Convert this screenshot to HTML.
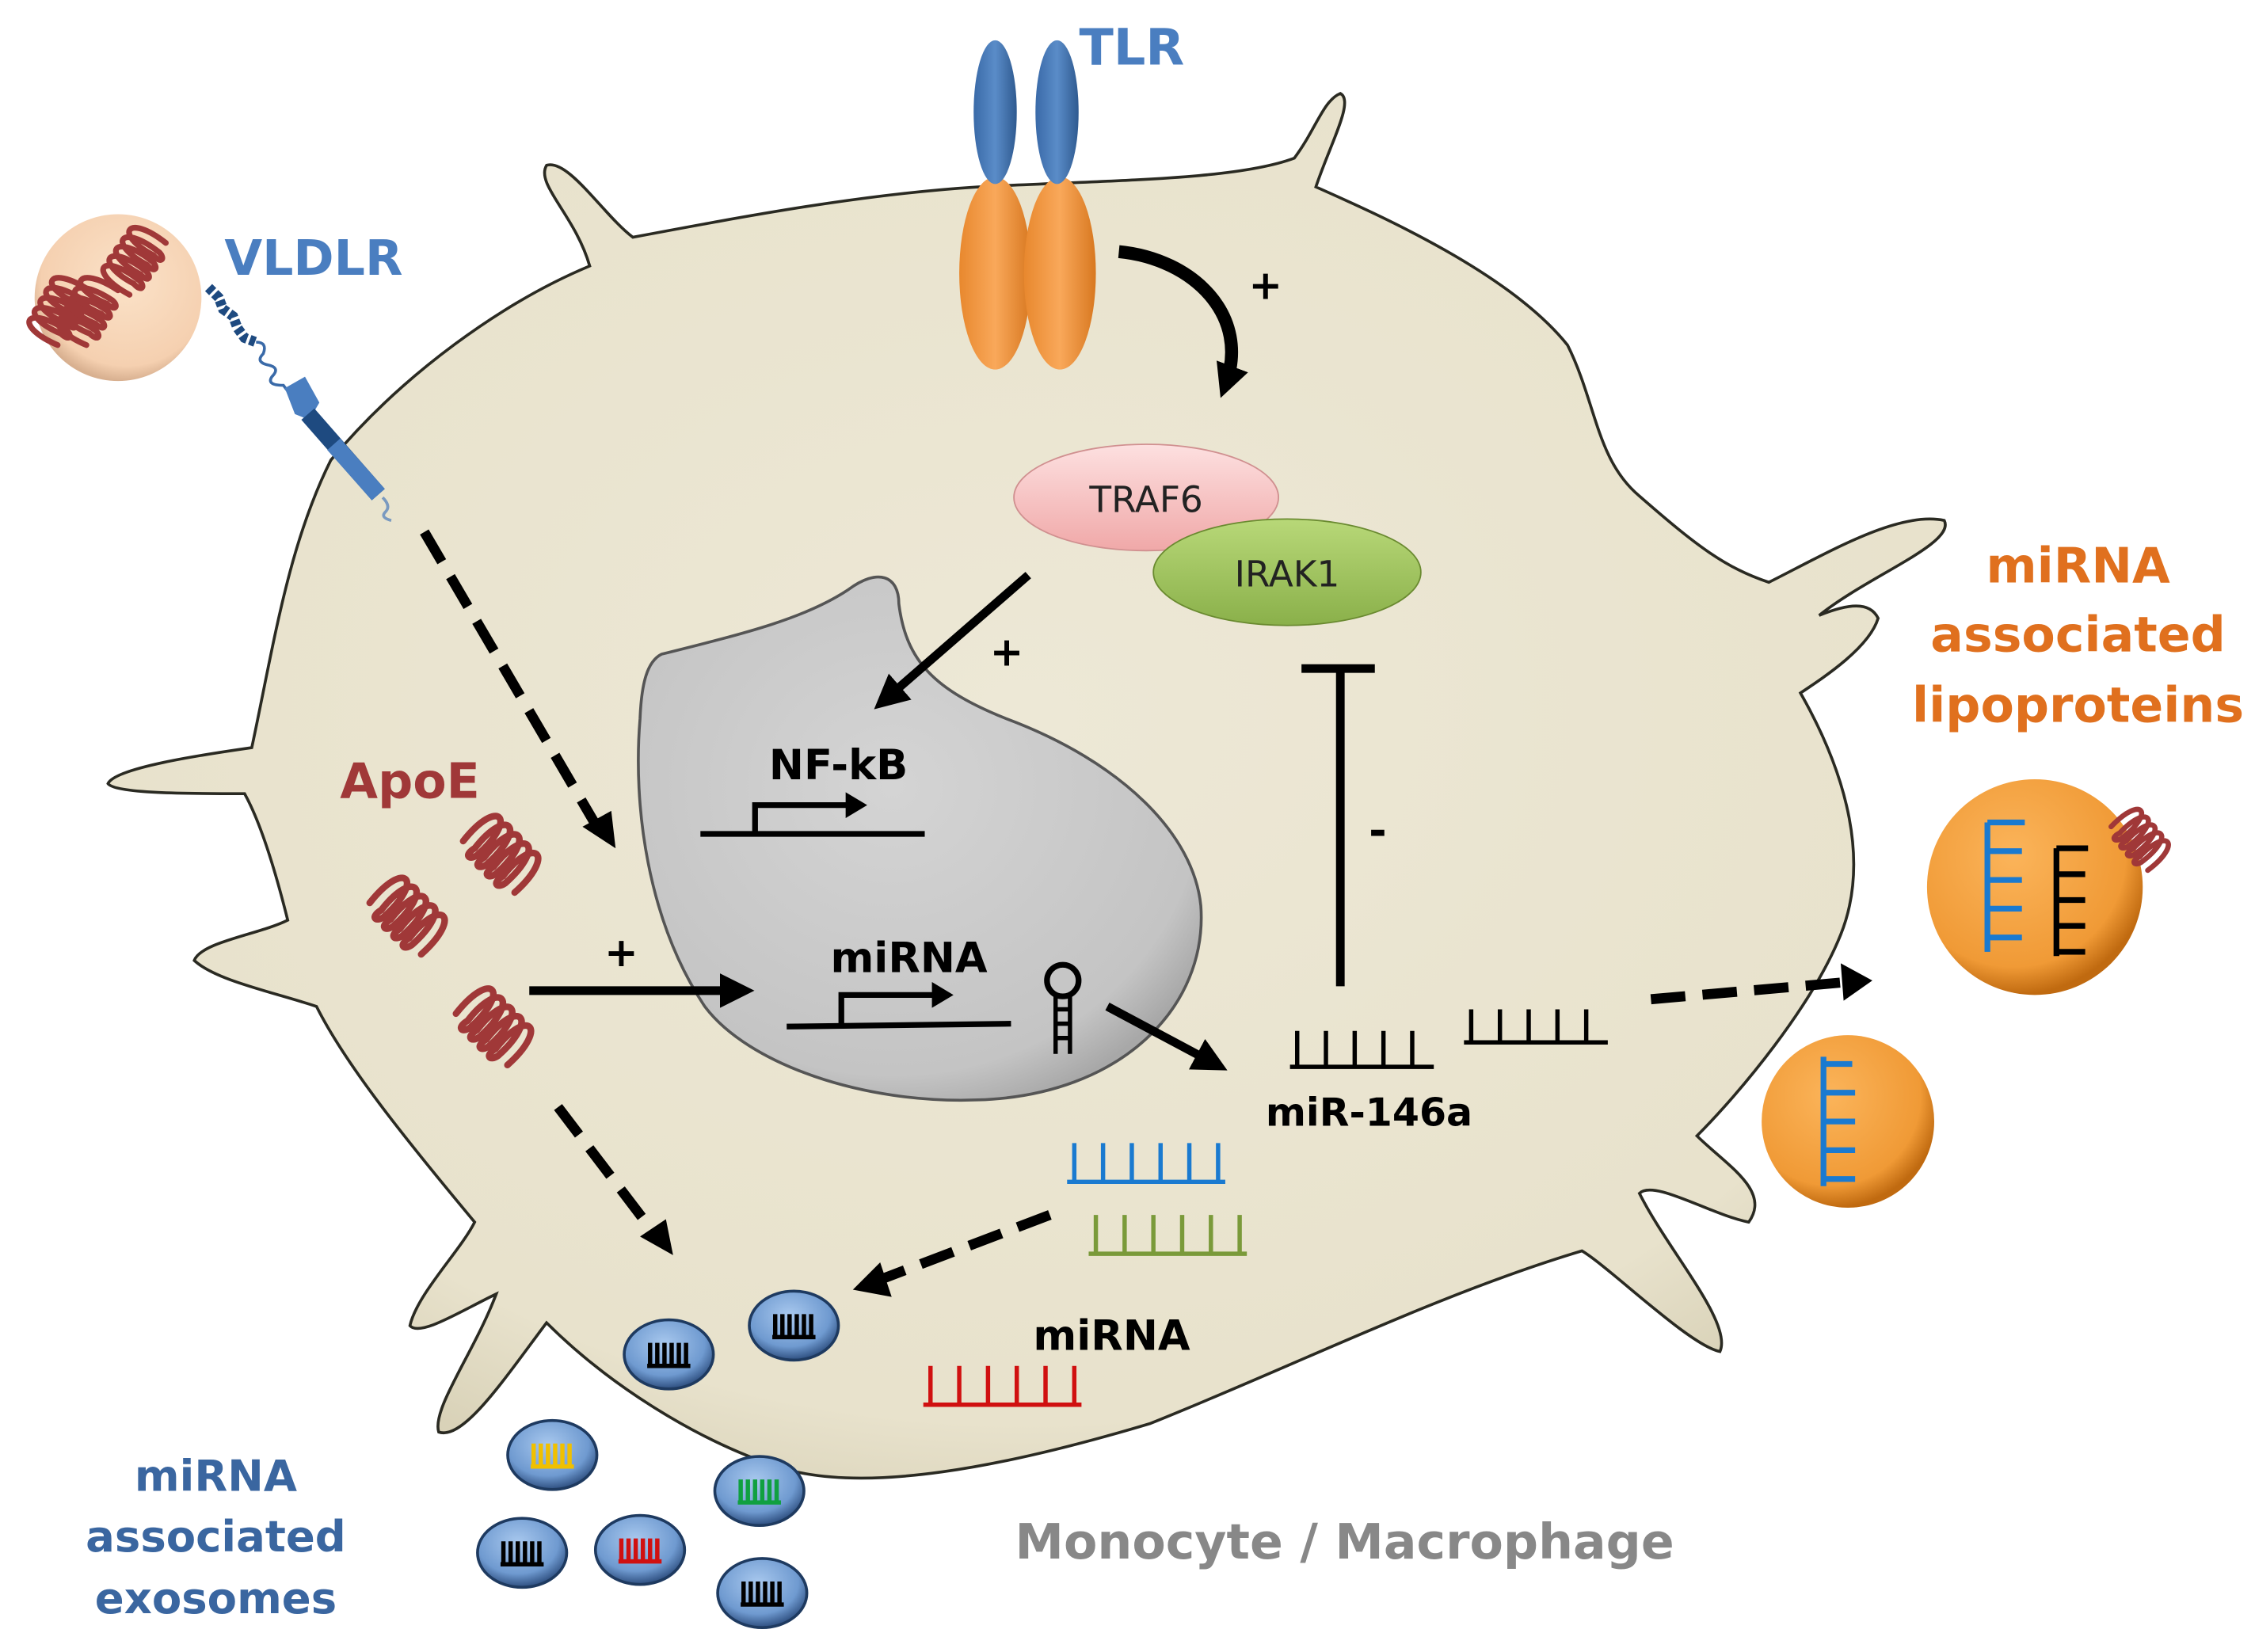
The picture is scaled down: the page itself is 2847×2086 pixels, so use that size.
<!DOCTYPE html>
<html><head><meta charset="utf-8"><style>
html,body{margin:0;padding:0;background:#fff;}
svg{display:block;}
text{font-family:"DejaVu Sans","Liberation Sans",sans-serif;font-weight:bold;}
</style></head><body>
<svg width="2847" height="2086" viewBox="0 0 1568 1149" xmlns="http://www.w3.org/2000/svg">
<defs>
<radialGradient id="cellg" cx="50%" cy="45%" r="60%"><stop offset="0" stop-color="#ede8d6"/><stop offset="0.85" stop-color="#e8e2cc"/><stop offset="1" stop-color="#d9d2b8"/></radialGradient>
<radialGradient id="nucg" cx="45%" cy="40%" r="65%"><stop offset="0" stop-color="#d4d4d4"/><stop offset="0.85" stop-color="#c4c4c4"/><stop offset="1" stop-color="#a8a8a8"/></radialGradient>
<radialGradient id="orng" cx="40%" cy="35%" r="65%"><stop offset="0" stop-color="#fbb45a"/><stop offset="0.8" stop-color="#f09a36"/><stop offset="1" stop-color="#c06a10"/></radialGradient>
<radialGradient id="pinkg" cx="55%" cy="40%" r="60%"><stop offset="0" stop-color="#fbe2c8"/><stop offset="0.85" stop-color="#f5d0b0"/><stop offset="1" stop-color="#d8b090"/></radialGradient>
<radialGradient id="exog" cx="45%" cy="35%" r="65%"><stop offset="0" stop-color="#a8c8ee"/><stop offset="0.7" stop-color="#6f9ad0"/><stop offset="1" stop-color="#2e4f80"/></radialGradient>
<linearGradient id="traf" x1="0" y1="0" x2="0" y2="1"><stop offset="0" stop-color="#fde0e0"/><stop offset="1" stop-color="#f0a8a8"/></linearGradient>
<linearGradient id="irak" x1="0" y1="0" x2="0" y2="1"><stop offset="0" stop-color="#b8d878"/><stop offset="1" stop-color="#8ab04a"/></linearGradient>
<linearGradient id="tlro" x1="0" y1="0" x2="1" y2="0"><stop offset="0" stop-color="#e8882e"/><stop offset="0.5" stop-color="#f9a85a"/><stop offset="1" stop-color="#d87820"/></linearGradient>
<linearGradient id="tlrb" x1="0" y1="0" x2="1" y2="0"><stop offset="0" stop-color="#3a6aa8"/><stop offset="0.5" stop-color="#5a8cc8"/><stop offset="1" stop-color="#2f5a90"/></linearGradient>
<marker id="ah" viewBox="0 0 10 10" refX="6" refY="5" markerWidth="4" markerHeight="4" orient="auto"><path d="M0,0 L10,5 L0,10 z" fill="#000"/></marker>
<marker id="ah2" viewBox="0 0 10 10" refX="6" refY="5" markerWidth="2.6" markerHeight="2.6" orient="auto"><path d="M0,0 L10,5 L0,10 z" fill="#000"/></marker>
<path id="coil" d="M0,0 c-4,-34 14,-34 12,0 c-1,6 -6,6 -4,-2 c-4,-32 14,-32 12,2 c-1,6 -6,6 -4,-2 c-4,-32 14,-32 12,2 c-1,6 -6,6 -4,-2 c-4,-32 14,-32 12,2 c-1,6 -6,6 -4,-2 c-4,-32 14,-32 12,2" fill="none" stroke="#a03838" stroke-width="4" stroke-linecap="round"/>
</defs>

<!-- cell -->
<path d="M410,185 C400,150 372,128 380,115 C395,110 420,150 440,165 C520,150 600,135 680,130 C780,125 860,125 900,110 C915,90 920,70 932,65 C942,70 925,100 915,130 C960,150 1050,190 1090,240 C1110,280 1110,320 1140,345 C1180,380 1200,395 1230,405 C1270,385 1320,355 1352,362 C1360,378 1300,400 1265,428 C1285,420 1300,418 1306,430 C1300,450 1270,470 1252,482 C1285,540 1300,600 1280,650 C1260,700 1210,760 1180,790 C1200,810 1232,828 1216,850 C1190,845 1150,820 1140,830 C1160,870 1205,920 1196,940 C1175,936 1120,882 1100,870 C1000,900 900,950 800,990 C700,1020 600,1040 540,1020 C480,1000 420,960 380,920 C350,960 322,1002 305,996 C300,980 330,940 345,900 C320,912 292,930 285,922 C290,900 320,870 330,850 C280,790 240,740 220,700 C190,690 150,682 135,668 C140,655 180,650 200,640 C190,600 180,570 170,552 C130,552 80,552 75,545 C80,534 140,525 175,520 C190,450 200,380 230,320 C280,260 350,210 410,185 Z" fill="url(#cellg)" stroke="#2a2a22" stroke-width="2"/>

<!-- nucleus -->
<path d="M460,455 C520,440 560,430 590,410 C610,395 625,400 625,420 C630,460 650,480 700,500 C780,530 830,580 835,630 C840,700 780,762 680,765 C600,768 520,740 490,700 C450,640 440,560 445,500 C446,475 450,460 460,455 Z" fill="url(#nucg)" stroke="#555" stroke-width="2"/>

<!-- TLR -->
<ellipse cx="692" cy="190" rx="25" ry="67" fill="url(#tlro)"/>
<ellipse cx="737" cy="190" rx="25" ry="67" fill="url(#tlro)"/>
<ellipse cx="692" cy="78" rx="15" ry="50" fill="url(#tlrb)"/>
<ellipse cx="735" cy="78" rx="15" ry="50" fill="url(#tlrb)"/>
<text x="787" y="45" font-size="35" fill="#4a7ec0" text-anchor="middle">TLR</text>

<!-- curved arrow -->
<path d="M778,175 C830,180 870,220 852,268" fill="none" stroke="#000" stroke-width="9" marker-end="url(#ah2)"/>
<text x="880" y="208" font-size="28" fill="#000" text-anchor="middle">+</text>

<!-- TRAF6 / IRAK1 -->
<ellipse cx="797" cy="346" rx="92" ry="37" fill="url(#traf)" stroke="#d09090"/>
<text x="797" y="356" font-size="25" fill="#222" text-anchor="middle" style="font-weight:normal">TRAF6</text>
<ellipse cx="895" cy="398" rx="93" ry="37" fill="url(#irak)" stroke="#6a8a30"/>
<text x="895" y="408" font-size="25" fill="#222" text-anchor="middle" style="font-weight:normal">IRAK1</text>

<!-- arrow TRAF6->NFkB -->
<line x1="715" y1="400" x2="615" y2="487" stroke="#000" stroke-width="6" marker-end="url(#ah)"/>
<text x="700" y="463" font-size="28" text-anchor="middle">+</text>

<!-- NF-kB -->
<text x="583" y="542" font-size="29" text-anchor="middle">NF-kB</text>
<line x1="487" y1="580" x2="643" y2="580" stroke="#000" stroke-width="4"/>
<path d="M525,580 V560 H590" fill="none" stroke="#000" stroke-width="4"/>
<path d="M588,551 L603,560 L588,569 z"/>

<!-- miRNA gene -->
<text x="632" y="676" font-size="29" text-anchor="middle">miRNA</text>
<line x1="547" y1="714" x2="703" y2="712" stroke="#000" stroke-width="4"/>
<path d="M585,713 V692 H650" fill="none" stroke="#000" stroke-width="4"/>
<path d="M648,683 L663,692 L648,701 z"/>
<circle cx="739" cy="682" r="11" fill="none" stroke="#000" stroke-width="4"/>
<path d="M734,692 V733 M744,692 V733 M734,702 H744 M734,712 H744 M734,722 H744" stroke="#000" stroke-width="3" fill="none"/>

<!-- ApoE arrow -->
<line x1="368" y1="689" x2="515" y2="689" stroke="#000" stroke-width="6" marker-end="url(#ah)"/>
<text x="432" y="672" font-size="28" text-anchor="middle">+</text>

<line x1="770" y1="700" x2="845" y2="740" stroke="#000" stroke-width="6" marker-end="url(#ah)"/>

<!-- inhibition -->
<line x1="932" y1="686" x2="932" y2="465" stroke="#000" stroke-width="6"/>
<line x1="905" y1="465" x2="956" y2="465" stroke="#000" stroke-width="6"/>
<text x="958" y="588" font-size="30" text-anchor="middle">-</text>

<!-- miR-146a ladders -->
<path d="M897,742 H997 M902,742 V717 M922,742 V717 M942,742 V717 M962,742 V717 M982,742 V717" stroke="#000" stroke-width="3" fill="none"/>
<path d="M1018,725 H1118 M1023,725 V702 M1043,725 V702 M1063,725 V702 M1083,725 V702 M1103,725 V702" stroke="#000" stroke-width="3" fill="none"/>
<text x="952" y="783" font-size="27" text-anchor="middle">miR-146a</text>

<line x1="1148" y1="695" x2="1285" y2="683" stroke="#000" stroke-width="7" stroke-dasharray="24,12"/>
<path d="M1280,670 L1302,682 L1282,696 z"/>

<!-- lipoproteins -->
<circle cx="1415" cy="617" r="75" fill="url(#orng)"/>
<path d="M1382,572 V662 M1382,572 H1408 M1382,592 H1406 M1382,612 H1406 M1382,632 H1406 M1382,652 H1406" stroke="#1a7ad0" stroke-width="4" fill="none"/>
<path d="M1430,590 V665 M1430,590 H1452 M1430,608 H1450 M1430,626 H1450 M1430,644 H1450 M1430,662 H1450" stroke="#000" stroke-width="4" fill="none"/>
<use href="#coil" transform="translate(1468,575) rotate(50) scale(0.9)"/>
<circle cx="1285" cy="780" r="60" fill="url(#orng)"/>
<path d="M1268,735 V825 M1268,740 H1288 M1268,760 H1290 M1268,780 H1290 M1268,800 H1290 M1268,820 H1290" stroke="#1a7ad0" stroke-width="4" fill="none"/>
<text font-size="34" fill="#e0701e" text-anchor="middle"><tspan x="1445" y="405">miRNA</tspan><tspan x="1445" y="453">associated</tspan><tspan x="1445" y="502">lipoproteins</tspan></text>

<!-- VLDLR -->
<circle cx="82" cy="207" r="58" fill="url(#pinkg)"/>
<use href="#coil" transform="translate(40,240) rotate(-60) scale(1)"/>
<use href="#coil" transform="translate(90,205) rotate(-55) scale(1)"/>
<use href="#coil" transform="translate(60,240) rotate(-60) scale(1)"/>
<text x="218" y="191" font-size="34" fill="#4a7ec0" text-anchor="middle">VLDLR</text>
<path d="M145,200 L152,207 L155,215 L162,220 L165,228 L170,235 L178,238" stroke="#1e4a80" stroke-width="7" stroke-dasharray="4,2" fill="none"/>
<path d="M178,238 q8,0 5,8 q-6,6 4,8 q8,2 2,8 q-4,6 8,6 L200,272" stroke="#3a6aa8" stroke-width="2" fill="none"/>
<path d="M198,270 L212,262 L222,280 L215,292 L205,288 z" fill="#4a7ec0"/>
<line x1="214" y1="288" x2="263" y2="344" stroke="#1e4a80" stroke-width="12"/>
<line x1="232" y1="309" x2="263" y2="344" stroke="#4a7ec0" stroke-width="12"/>
<path d="M266,346 q6,6 2,10 q-4,4 4,6" stroke="#7a9ac0" stroke-width="2" fill="none"/>

<!-- dashed arrows -->
<line x1="295" y1="370" x2="415" y2="575" stroke="#000" stroke-width="7" stroke-dasharray="24,12"/>
<path d="M405,575 L428,590 L425,564 z"/>
<line x1="388" y1="770" x2="455" y2="858" stroke="#000" stroke-width="7" stroke-dasharray="24,12"/>
<path d="M445,860 L468,873 L463,848 z"/>
<line x1="730" y1="845" x2="612" y2="890" stroke="#000" stroke-width="7" stroke-dasharray="24,12"/>
<path d="M612,878 L593,897 L620,902 z"/>

<!-- ApoE -->
<text x="285" y="555" font-size="34" fill="#a03838" text-anchor="middle">ApoE</text>
<use href="#coil" transform="translate(322,585) rotate(45) scale(1.15)"/>
<use href="#coil" transform="translate(257,628) rotate(45) scale(1.15)"/>
<use href="#coil" transform="translate(317,705) rotate(45) scale(1.15)"/>

<!-- colored miRNA ladders -->
<path d="M742,822 H852 M747,822 V795 M767,822 V795 M787,822 V795 M807,822 V795 M827,822 V795 M847,822 V795" stroke="#1a7ad0" stroke-width="3" fill="none"/>
<path d="M757,872 H867 M762,872 V845 M782,872 V845 M802,872 V845 M822,872 V845 M842,872 V845 M862,872 V845" stroke="#7a9a3a" stroke-width="3" fill="none"/>
<path d="M642,977 H752 M647,977 V950 M667,977 V950 M687,977 V950 M707,977 V950 M727,977 V950 M747,977 V950" stroke="#d01010" stroke-width="3" fill="none"/>
<text x="773" y="939" font-size="29" text-anchor="middle">miRNA</text>

<!-- exosomes -->
<g transform="translate(465,942)"><ellipse rx="31" ry="24" fill="url(#exog)" stroke="#1e3a60" stroke-width="2"/><path d="M-15,8 H15 M-13,8 V-8 M-8,8 V-8 M-3,8 V-8 M2,8 V-8 M7,8 V-8 M12,8 V-8" stroke="#000" stroke-width="3"/></g>
<g transform="translate(552,922)"><ellipse rx="31" ry="24" fill="url(#exog)" stroke="#1e3a60" stroke-width="2"/><path d="M-15,8 H15 M-13,8 V-8 M-8,8 V-8 M-3,8 V-8 M2,8 V-8 M7,8 V-8 M12,8 V-8" stroke="#000" stroke-width="3"/></g>
<g transform="translate(384,1012)"><ellipse rx="31" ry="24" fill="url(#exog)" stroke="#1e3a60" stroke-width="2"/><path d="M-15,8 H15 M-13,8 V-8 M-8,8 V-8 M-3,8 V-8 M2,8 V-8 M7,8 V-8 M12,8 V-8" stroke="#f0c000" stroke-width="3"/></g>
<g transform="translate(528,1037)"><ellipse rx="31" ry="24" fill="url(#exog)" stroke="#1e3a60" stroke-width="2"/><path d="M-15,8 H15 M-13,8 V-8 M-8,8 V-8 M-3,8 V-8 M2,8 V-8 M7,8 V-8 M12,8 V-8" stroke="#10a040" stroke-width="3"/></g>
<g transform="translate(363,1080)"><ellipse rx="31" ry="24" fill="url(#exog)" stroke="#1e3a60" stroke-width="2"/><path d="M-15,8 H15 M-13,8 V-8 M-8,8 V-8 M-3,8 V-8 M2,8 V-8 M7,8 V-8 M12,8 V-8" stroke="#000" stroke-width="3"/></g>
<g transform="translate(445,1078)"><ellipse rx="31" ry="24" fill="url(#exog)" stroke="#1e3a60" stroke-width="2"/><path d="M-15,8 H15 M-13,8 V-8 M-8,8 V-8 M-3,8 V-8 M2,8 V-8 M7,8 V-8 M12,8 V-8" stroke="#d01010" stroke-width="3"/></g>
<g transform="translate(530,1108)"><ellipse rx="31" ry="24" fill="url(#exog)" stroke="#1e3a60" stroke-width="2"/><path d="M-15,8 H15 M-13,8 V-8 M-8,8 V-8 M-3,8 V-8 M2,8 V-8 M7,8 V-8 M12,8 V-8" stroke="#000" stroke-width="3"/></g>
<text font-size="30" fill="#3a66a0" text-anchor="middle"><tspan x="150" y="1037">miRNA</tspan><tspan x="150" y="1079">associated</tspan><tspan x="150" y="1122">exosomes</tspan></text>

<text x="935" y="1084" font-size="34" fill="#888" text-anchor="middle">Monocyte / Macrophage</text>
</svg>
</body></html>
